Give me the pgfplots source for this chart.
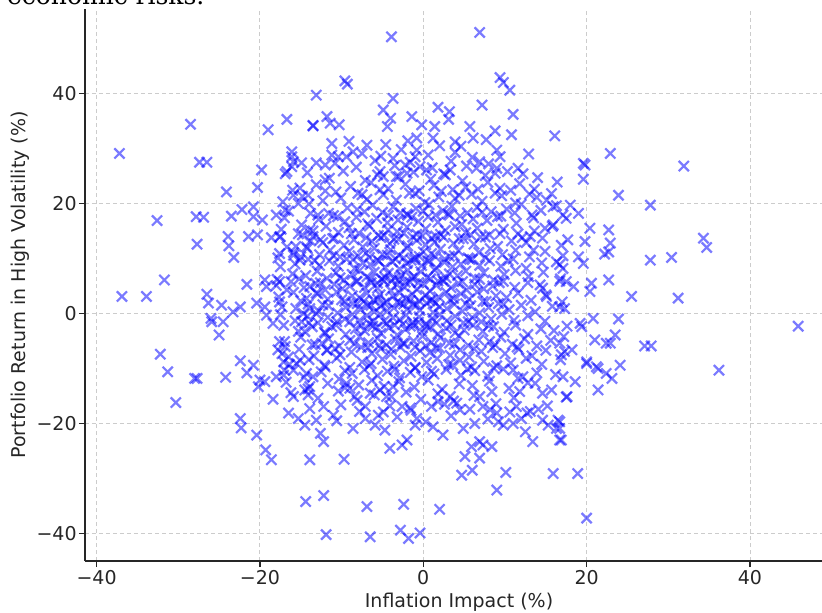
\documentclass[border=0pt]{standalone}
\usepackage{pgfplots}
\pgfplotsset{compat=1.18}
\usepackage{fontspec}
\setmainfont{DejaVu Sans}
\newfontfamily\serifttl{DejaVu Serif}
\begin{document}
\begin{tikzpicture}
\begin{axis}[
  at={(0pt,0pt)}, anchor=south west,
  scale only axis, width=368.5pt, height=276pt,
  xmin=-41.42, xmax=48.82, ymin=-45.0, ymax=55.36,
  axis x line*=bottom, axis y line*=left,
  axis line style={-, line width=0.9pt, black!85},
  tick align=outside, major tick length=3pt,
  tick style={line width=0.7pt, black!85},
  xtick={-40,-20,0,20,40}, xticklabels={−40,−20,0,20,40},
  ytick={-40,-20,0,20,40}, yticklabels={−40,−20,0,20,40},
  tick label style={font=\fontsize{9.5}{11}\selectfont, text=black!85},
  xticklabel style={inner sep=1.5pt},
  yticklabel style={inner sep=1pt},
  grid=major,
  grid style={dash pattern=on 2pt off 1.5pt, gray!40, line width=0.45pt},
  xlabel={Inflation Impact (\%)},
  ylabel={Portfolio Return in High Volatility (\%)},
  label style={font=\fontsize{9.5}{11}\selectfont, text=black!85},
  xlabel style={at={(axis description cs:0.5075,-0.0851)}, anchor=base},
  ylabel style={at={(axis description cs:-0.0882,0.5)}, anchor=center},
]
\addplot[only marks, mark=x, mark size=3.6pt, mark options={draw=blue, draw opacity=0.52, line width=1.1pt}] coordinates {
(-37.2,29.1)(-36.9,3.1)(-33.9,3.1)(-32.6,16.9)(-31.7,6.1)(-32.2,-7.4)(-31.3,-10.6)(-30.3,-16.2)
(-28.5,34.4)(-27.4,27.5)(-26.5,27.5)(-27.8,17.6)(-26.9,17.5)(-27.7,12.6)(-28.0,-11.8)(-27.7,-11.8)
(-26.5,3.5)(-26.3,1.9)(-24.7,1.5)(-26.0,-0.9)(-25.9,-1.5)(-24.5,-1.5)(-25.0,-3.9)(-24.1,22.1)
(-23.5,17.7)(-23.9,14.0)(-23.8,12.3)(-23.2,10.2)(-23.3,0.3)(-22.4,1.2)(-24.2,-11.6)(-22.4,-8.6)
(-20.8,-9.4)(-21.6,-10.8)(-20.0,-12.1)(-20.2,-13.3)(-19.4,-12.4)(-22.4,-19.1)(-22.3,-20.8)(-20.4,-22.1)
(-19.3,-24.8)(-18.6,-26.6)(-22.2,18.9)(-20.8,19.4)(-20.8,17.6)(-19.7,17.0)(-21.4,14.0)(-20.3,14.3)
(-18.6,13.8)(-17.5,14.0)(-18.0,17.9)(-16.9,18.8)(-20.3,22.9)(-19.8,26.1)(-19.0,33.4)(-16.7,35.3)
(-13.5,34.2)(-11.8,35.8)(-11.4,34.6)(-10.3,34.3)(-16.1,29.4)(-15.9,27.6)(-16.7,25.8)(-14.9,27.4)
(-13.1,27.4)(-12.0,27.0)(-12.0,24.3)(-15.1,22.8)(-15.9,21.5)(-14.1,21.5)(-15.3,20.0)(-12.9,17.9)
(-13.9,15.2)(-13.5,14.0)(-12.6,13.4)(-14.3,12.1)(-16.7,12.1)(-15.9,10.6)(-15.1,9.7)(-17.6,10.9)
(-21.6,5.3)(-19.4,6.1)(-19.2,4.9)(-17.6,5.8)(-16.7,4.3)(-13.9,4.9)(-13.1,3.7)(-20.4,1.9)
(-19.4,1.2)(-17.6,2.1)(-19.2,-0.3)(-18.4,-1.8)(-14.7,0.0)(-13.9,0.9)(-13.1,0.0)(-14.9,-1.5)
(-14.5,-3.3)(-12.4,-5.4)(-11.8,-6.6)(-12.0,-3.6)(-17.6,-5.1)(-17.8,-6.6)(-16.9,-6.0)(-16.5,-7.9)
(-15.5,-9.1)(-17.1,-8.8)(-15.9,-10.3)(-15.1,-8.5)(-18.0,-11.5)(-17.1,-11.2)(-14.3,-10.9)(-13.5,-11.5)
(-13.9,-13.3)(-14.5,-13.9)(-14.1,-14.8)(-18.4,-15.6)(-15.9,-15.1)(-16.5,-18.1)(-15.3,-19.1)(-14.5,-20.3)
(-13.1,-19.4)(-12.2,-16.9)(-12.6,-21.8)(-12.2,-23.3)(-13.9,-26.6)(-14.4,-34.2)(-12.2,-33.1)(-11.9,-40.2)
(-11.0,-18.5)(-9.7,-26.5)(-6.9,-35.1)(-6.5,-40.6)(-2.4,-34.7)(-2.8,-39.4)(-1.8,-40.9)(-0.4,-39.9)
(2.0,-35.6)(9.0,-32.1)(10.1,-28.9)(15.9,-29.1)(18.9,-29.1)(20.0,-37.2)(4.7,-29.4)(6.0,-28.5)
(5.1,-26.0)(6.9,-26.3)(5.9,-24.2)(6.9,-23.3)(7.3,-23.9)(8.4,-24.2)(1.2,-20.6)(2.4,-22.1)
(4.9,-20.9)(6.3,-20.0)(9.8,-20.3)(9.2,-19.7)(12.5,-21.5)(13.4,-23.3)(15.3,-20.3)(16.5,-19.4)
(16.7,-23.0)(16.3,-20.9)(13.1,-17.8)(14.1,-17.4)(12.0,-19.1)(17.6,-15.1)(17.1,-11.5)(18.6,-12.4)
(20.0,-9.1)(21.2,-9.7)(21.4,-13.9)(13.7,-12.7)(11.8,-14.2)(12.2,-11.5)(-8.6,-20.9)(-7.1,-19.1)
(-5.9,-20.3)(-4.7,-21.2)(-4.1,-24.5)(-2.6,-23.9)(-2.0,-23.0)(-2.6,-16.9)(-1.6,-17.2)(-4.9,-17.9)
(-5.5,-18.5)(-1.0,-20.3)(-0.8,-19.1)(-7.1,-16.9)(-9.0,-13.6)(-8.4,-15.1)(-9.4,-12.7)(-6.5,-14.5)
(-5.3,-13.9)(-4.5,-15.1)(-3.7,-13.3)(1.0,-16.9)(1.8,-16.0)(3.3,-15.1)(4.1,-16.3)(4.5,-17.5)
(6.9,-15.1)(7.3,-16.9)(8.2,-17.5)(9.0,-18.1)(11.4,-16.9)(12.7,-18.1)
(-3.9,50.3)(-9.6,42.3)(-9.3,41.7)(-13.1,39.7)(-3.7,39.1)(-4.9,37.0)(-4.0,35.5)(-4.4,34.0)
(-1.4,35.8)(-0.2,34.3)(-13.5,34.1)(-11.2,30.9)(-6.9,30.6)(-7.5,29.1)(-16.1,28.5)(-16.1,26.7)
(-16.9,25.4)(-11.2,28.8)(-10.4,28.5)(-9.4,28.5)(-3.7,28.2)(-2.2,27.0)(-0.8,29.7)(-0.8,31.9)
(-1.0,28.5)(-5.3,25.8)(-4.9,24.9)(-3.3,24.9)(-2.0,25.5)(6.9,51.1)(9.4,42.9)(9.8,42.0)
(10.6,40.6)(7.2,37.9)(11.0,36.2)(1.8,37.5)(3.2,36.7)(3.1,35.3)(1.4,34.0)(5.7,34.0)
(8.8,33.2)(10.8,32.5)(16.1,32.3)(1.2,31.9)(2.0,30.5)(3.9,31.2)(6.1,31.9)(9.0,29.7)
(9.4,28.5)(6.9,27.6)(6.5,26.4)(9.0,26.4)(8.8,25.5)(3.3,26.1)(2.7,25.2)(0.4,26.1)
(-0.4,26.7)(12.2,25.4)(19.6,27.3)(19.8,27.0)(19.6,24.4)(22.9,29.1)(31.9,26.8)(23.9,21.5)
(27.8,19.7)(18.0,19.7)(19.0,18.2)(17.1,17.9)(17.5,17.3)(20.4,15.5)(22.7,15.2)(17.7,13.4)
(19.8,13.1)(22.9,12.8)(22.7,11.2)(22.2,10.8)(19.0,10.3)(19.6,9.1)(34.3,13.7)(34.7,12.0)
(27.8,9.7)(30.4,10.2)(17.1,8.2)(18.4,4.9)(22.7,6.1)(20.6,5.5)(20.4,4.0)(25.5,3.1)
(31.2,2.8)(16.7,1.2)(17.3,0.9)(19.2,-1.8)(19.4,-2.4)(20.8,-0.9)(23.9,-1.0)(23.5,-3.9)
(22.9,-5.4)(22.4,-5.4)(21.0,-4.8)(27.1,-5.9)(27.9,-5.9)(45.9,-2.3)(36.2,-10.3)(16.7,-5.4)
(18.2,-6.6)(17.3,-6.9)(20.0,-8.8)(21.4,-10.0)(22.4,-10.9)(23.1,-11.8)(24.1,-9.4)(17.5,-15.2)
(16.7,-19.7)(16.7,-20.9)(16.9,-23.0)(15.1,20.6)(15.9,19.4)(13.1,14.0)(13.5,11.5)(14.9,15.5)
(16.3,9.4)(14.3,5.2)(15.1,3.1)(17.5,5.8)
(-14.2,25.6)(-11.5,24.6)(-9.8,25.9)(-7.1,24.2)(-5.6,25.2)(-3.0,24.9)(-1.2,25.7)(0.9,24.4)(2.5,25.4)(4.8,24.1)(7.6,25.1)(10.3,25.8)(14.0,24.7)
(-16.0,22.4)(-13.1,23.4)(-10.7,22.1)(-8.9,23.1)(-6.4,23.8)(-4.3,22.7)(-2.2,23.5)(-0.5,22.3)(1.3,23.3)(3.6,22.5)(5.2,23.0)(7.9,23.85)(9.4,22.75)(11.8,23.6)(13.6,22.6)(16.4,23.9)
(-17.2,20.3)(-14.8,21.3)(-12.3,20.5)(-10.1,21.0)(-8.0,21.85)(-6.9,20.75)(-4.9,21.6)(-3.3,20.6)(-1.7,21.9)(0.2,20.2)(1.9,21.2)(3.9,20.9)(5.9,21.7)(7.2,20.4)(9.6,21.4)(11.3,20.1)(13.9,21.1)(15.7,21.8)
(-16.5,18.6)(-14.0,19.9)(-11.6,18.2)(-9.3,19.2)(-8.1,18.9)(-6.2,19.7)(-5.0,18.4)(-3.7,19.4)(-2.0,18.1)(-0.9,19.1)(0.7,19.8)(2.4,18.7)(3.5,19.5)(5.4,18.3)(6.6,19.3)(8.3,18.5)(10.2,19.0)(12.0,19.85)(14.4,18.75)(16.3,19.6)
(-17.0,17.4)(-14.9,16.1)(-12.8,17.1)(-11.0,17.8)(-9.6,16.7)(-8.2,17.5)(-6.8,16.3)(-5.7,17.3)(-4.4,16.5)(-3.1,17.0)(-1.9,17.85)(-0.6,16.75)(0.6,17.6)(1.8,16.6)(3.2,17.9)(4.7,16.2)(6.1,17.2)(7.8,16.9)(9.5,17.7)(11.4,16.4)(13.5,17.4)(15.9,16.1)
(-17.4,15.3)(-15.3,14.5)(-13.5,15.0)(-11.9,15.85)(-10.4,14.75)(-9.1,15.6)(-7.9,14.6)(-6.6,15.9)(-5.5,14.2)(-4.3,15.2)(-3.2,14.9)(-2.0,15.7)(-0.8,14.4)(0.3,15.4)(1.5,14.1)(2.7,15.1)(3.9,15.8)(5.2,14.7)(6.6,15.5)(8.1,14.3)(9.8,15.3)(11.6,14.5)(13.6,15.0)(15.8,15.85)
(-17.6,13.9)(-15.6,12.2)(-13.8,13.2)(-12.3,12.9)(-10.9,13.7)(-9.7,12.4)(-8.5,13.4)(-7.4,12.1)(-6.3,13.1)(-5.2,13.8)(-4.1,12.7)(-3.0,13.5)(-1.9,12.3)(-0.8,13.3)(0.3,12.5)(1.4,13.0)(2.5,13.85)(3.7,12.75)(4.9,13.6)(6.2,12.6)(7.6,13.9)(9.1,12.2)(10.8,13.2)(12.6,12.9)(14.6,13.7)(16.9,12.4)
(-17.8,10.1)(-15.9,11.1)(-14.2,11.8)(-12.7,10.7)(-11.4,11.5)(-10.2,10.3)(-9.1,11.3)(-8.0,10.5)(-7.0,11.0)(-6.0,11.85)(-5.0,10.75)(-4.0,11.6)(-3.0,10.6)(-2.0,11.9)(-1.0,10.2)(0.0,11.2)(1.0,10.9)(2.1,11.7)(3.2,10.4)(4.3,11.4)(5.5,10.1)(6.8,11.1)(8.2,11.8)(9.7,10.7)(11.3,11.5)(13.0,10.3)(14.9,11.3)(17.1,10.5)
(-17.5,8.5)(-15.7,9.0)(-14.1,9.85)(-12.7,8.75)(-11.5,9.6)(-10.4,8.6)(-9.4,9.9)(-8.4,8.2)(-7.4,9.2)(-6.5,8.9)(-5.6,9.7)(-4.7,8.4)(-3.8,9.4)(-2.9,8.1)(-2.0,9.1)(-1.1,9.8)(-0.2,8.7)(0.7,9.5)(1.6,8.3)(2.6,9.3)(3.6,8.5)(4.6,9.0)(5.7,9.85)(6.9,8.75)(8.1,9.6)(9.5,8.6)(11.0,9.9)(12.6,8.2)(14.5,9.2)(16.7,8.9)
(-17.9,6.2)(-16.0,7.2)(-14.4,6.9)(-13.0,7.7)(-11.8,6.4)(-10.7,7.4)(-9.7,6.1)(-8.7,7.1)(-7.8,7.8)(-6.9,6.7)(-6.0,7.5)(-5.1,6.3)(-4.3,7.3)(-3.5,6.5)(-2.7,7.0)(-1.9,7.85)(-1.1,6.75)(-0.3,7.6)(0.5,6.6)(1.4,7.9)(2.3,6.2)(3.2,7.2)(4.2,6.9)(5.2,7.7)(6.3,6.4)(7.4,7.4)(8.6,6.1)(9.9,7.1)(11.3,7.8)(12.9,6.7)(14.7,7.5)(16.8,6.3)
(-18.0,5.1)(-16.2,5.8)(-14.6,4.7)(-13.2,5.5)(-12.0,4.3)(-10.9,5.3)(-9.9,4.5)(-9.0,5.0)(-8.1,5.85)(-7.2,4.75)(-6.4,5.6)(-5.6,4.6)(-4.8,5.9)(-4.0,4.2)(-3.2,5.2)(-2.4,4.9)(-1.6,5.7)(-0.8,4.4)(0.0,5.4)(0.8,4.1)(1.6,5.1)(2.5,5.8)(3.4,4.7)(4.3,5.5)(5.3,4.3)(6.3,5.3)(7.4,4.5)(8.5,5.0)(9.8,5.85)(11.2,4.75)(12.8,5.6)(14.6,4.6)(16.7,5.9)
(-17.7,3.0)(-15.9,3.85)(-14.3,2.75)(-12.9,3.6)(-11.7,2.6)(-10.6,3.9)(-9.6,2.2)(-8.7,3.2)(-7.8,2.9)(-6.9,3.7)(-6.1,2.4)(-5.3,3.4)(-4.5,2.1)(-3.7,3.1)(-2.9,3.8)(-2.1,2.7)(-1.3,3.5)(-0.5,2.3)(0.3,3.3)(1.1,2.5)(1.9,3.0)(2.8,3.85)(3.7,2.75)(4.6,3.6)(5.6,2.6)(6.6,3.9)(7.7,2.2)(8.9,3.2)(10.2,2.9)(11.6,3.7)(13.2,2.4)(15.0,3.4)(17.0,2.1)
(-17.3,1.2)(-15.6,0.9)(-14.1,1.7)(-12.8,0.4)(-11.6,1.4)(-10.5,0.1)(-9.5,1.1)(-8.6,1.8)(-7.7,0.7)(-6.8,1.5)(-6.0,0.3)(-5.2,1.3)(-4.4,0.5)(-3.6,1.0)(-2.8,1.85)(-2.0,0.75)(-1.2,1.6)(-0.4,0.6)(0.4,1.9)(1.2,0.2)(2.0,1.2)(2.9,0.9)(3.8,1.7)(4.8,0.4)(5.8,1.4)(6.9,0.1)(8.0,1.1)(9.2,1.8)(10.5,0.7)(12.0,1.5)(13.7,0.3)(15.8,1.3)
(-17.5,-0.2)(-15.7,-1.3)(-14.2,-0.5)(-12.9,-1.7)(-11.7,-0.7)(-10.6,-1.5)(-9.6,-1.0)(-8.7,-0.15)(-7.8,-1.25)(-6.9,-0.4)(-6.1,-1.4)(-5.3,-0.1)(-4.5,-1.8)(-3.7,-0.8)(-2.9,-1.1)(-2.1,-0.3)(-1.3,-1.6)(-0.5,-0.6)(0.3,-1.9)(1.1,-0.9)(2.0,-0.2)(2.9,-1.3)(3.9,-0.5)(4.9,-1.7)(6.0,-0.7)(7.1,-1.5)(8.3,-1.0)(9.6,-0.15)(11.1,-1.25)(12.8,-0.4)(14.9,-1.4)
(-17.1,-2.15)(-15.3,-3.25)(-13.6,-2.4)(-12.1,-3.4)(-10.7,-2.1)(-9.5,-3.8)(-8.3,-2.8)(-7.2,-3.1)(-6.2,-2.3)(-5.2,-3.6)(-4.2,-2.6)(-3.2,-3.9)(-2.2,-2.9)(-1.2,-2.2)(-0.2,-3.3)(0.8,-2.5)(1.8,-3.7)(2.8,-2.7)(3.9,-3.5)(5.0,-3.0)(6.1,-2.15)(7.3,-3.25)(8.6,-2.4)(9.9,-3.4)(11.3,-2.1)(12.8,-3.8)(14.4,-2.8)(16.0,-3.1)(17.6,-2.3)
(-17.0,-5.1)(-15.0,-4.3)(-13.2,-5.6)(-11.6,-4.6)(-10.3,-5.9)(-9.0,-4.9)(-7.8,-4.2)(-6.7,-5.3)(-5.6,-4.5)(-4.5,-5.7)(-3.4,-4.7)(-2.3,-5.5)(-1.2,-5.0)(-0.1,-4.15)(1.0,-5.25)(2.1,-4.4)(3.2,-5.4)(4.4,-4.1)(5.5,-5.8)(6.8,-4.8)(8.1,-5.1)(9.5,-4.3)(10.9,-5.6)(12.4,-4.6)(13.9,-5.9)(15.6,-4.9)(17.2,-4.2)
(-17.3,-7.3)(-15.2,-6.5)(-13.4,-7.7)(-11.8,-6.7)(-10.2,-7.5)(-8.8,-7.0)(-7.6,-6.15)(-6.3,-7.25)(-5.2,-6.4)(-4.0,-7.4)(-2.8,-6.1)(-1.5,-7.8)(-0.4,-6.8)(0.8,-7.1)(2.0,-6.3)(3.3,-7.6)(4.5,-6.6)(5.6,-7.9)(7.1,-6.9)(8.5,-6.2)(10.0,-7.3)(11.7,-6.5)(13.3,-7.7)(15.0,-6.7)(16.9,-7.5)
(-16.4,-9.25)(-14.0,-8.4)(-12.1,-9.4)(-10.6,-8.1)(-9.0,-9.8)(-7.5,-8.8)(-6.4,-9.1)(-5.0,-8.3)(-3.6,-9.6)(-2.4,-8.6)(-1.0,-9.9)(0.4,-8.9)(1.7,-8.2)(3.1,-9.3)(4.5,-8.5)(5.9,-9.7)(7.4,-8.7)(9.0,-9.5)(10.7,-9.0)(12.6,-8.15)(14.5,-9.25)(16.8,-8.4)
(-17.0,-10.3)(-14.6,-11.6)(-12.5,-10.6)(-10.3,-11.9)(-8.7,-10.9)(-7.2,-10.2)(-5.6,-11.3)(-4.4,-10.5)(-2.9,-11.7)(-1.6,-10.7)(-0.2,-11.5)(1.3,-11.0)(2.8,-10.15)(4.6,-11.25)(6.3,-10.4)(7.9,-11.4)(9.8,-10.1)(11.6,-11.8)(13.9,-10.8)(16.2,-11.1)
(-16.8,-12.5)(-14.1,-13.7)(-11.7,-12.7)(-9.6,-13.5)(-7.9,-13.0)(-6.3,-12.15)(-4.8,-13.25)(-3.0,-12.4)(-1.1,-13.4)(0.6,-12.1)(2.3,-13.8)(4.4,-12.8)(6.0,-13.1)(8.1,-12.3)(10.5,-13.6)(12.8,-12.6)(15.7,-13.9)
(-16.2,-14.4)(-12.9,-15.4)(-10.4,-14.1)(-8.1,-15.8)(-6.0,-14.8)(-3.9,-15.1)(-2.1,-14.3)(-0.3,-15.6)(1.8,-14.6)(3.7,-15.9)(6.2,-14.9)(8.4,-14.2)(11.1,-15.3)(14.6,-14.5)
(-10.8,27.3)(-8.2,26.6)(-5.9,27.8)(-3.5,26.9)(-1.6,27.5)(1.1,26.5)(3.4,27.7)(5.3,26.8)(8.0,27.2)(11.6,26.4)
(-8.6,29.4)(-5.2,28.6)(-2.7,29.8)(0.6,28.8)(3.9,29.3)(6.0,28.4)(12.9,29.0)
(-9.1,31.3)(-4.6,30.7)(-1.9,31.4)(4.6,30.4)(7.7,31.6)
(-13.9,-17.3)(-10.1,-16.6)(-7.8,-17.8)(-4.1,-16.8)(-1.5,-17.6)(2.6,-16.5)(5.7,-17.4)(8.9,-16.4)(10.6,-17.9)(15.2,-16.8)
(-10.6,-19.5)(-3.2,-18.8)(0.3,-19.7)(3.4,-18.6)(7.9,-19.2)(11.0,-20.0)(14.6,-19.4)
(-12.0,22.3)(-7.5,21.6)(-5.3,22.5)(-1.0,21.8)(2.2,22.2)(4.4,21.5)(6.7,22.6)(8.8,21.9)(10.7,22.4)(13.0,21.7)
(-13.8,18.2)(-10.5,17.6)(-7.2,18.5)(-4.3,17.8)(-2.8,18.3)(-1.4,17.5)(0.0,18.6)(1.5,17.9)(3.0,18.1)(4.5,17.7)(7.2,18.4)(9.1,17.6)(11.2,18.3)(13.3,17.9)
(-14.8,14.3)(-11.1,13.6)(-8.8,14.5)(-7.0,13.8)(-4.8,14.2)(-3.6,13.5)(-2.4,14.6)(-1.3,13.9)(-0.1,14.1)(1.0,13.7)(2.1,14.4)(4.4,13.6)(5.8,14.3)(7.0,13.9)(9.4,14.5)(12.1,13.8)
(-15.0,10.3)(-13.3,9.6)(-11.0,10.5)(-8.6,9.8)(-6.6,10.2)(-5.4,9.5)(-4.4,10.6)(-3.4,9.9)(-2.4,10.1)(-1.5,9.7)(-0.5,10.4)(0.5,9.6)(1.5,10.3)(2.6,9.9)(3.8,10.5)(6.0,9.8)(7.6,10.2)(10.4,9.6)
(-15.2,6.3)(-12.6,5.6)(-10.2,6.5)(-8.2,5.8)(-6.5,6.2)(-5.6,5.5)(-4.7,6.6)(-3.9,5.9)(-3.0,6.1)(-2.2,5.7)(-1.4,6.4)(-0.6,5.6)(0.9,6.3)(1.8,5.9)(2.8,6.5)(4.8,5.8)(6.9,6.2)(9.3,5.6)
(-15.0,2.3)(-12.3,1.6)(-10.0,2.5)(-8.1,1.8)(-7.3,2.2)(-6.4,1.5)(-5.6,2.6)(-4.8,1.9)(-3.2,2.1)(-2.4,1.7)(-1.6,2.4)(-0.8,1.6)(0.8,2.3)(1.5,1.9)(3.3,2.5)(5.2,1.8)(7.3,2.2)(9.8,1.6)
(-14.0,-1.7)(-11.2,-2.4)(-9.0,-1.5)(-7.6,-2.2)(-6.6,-1.8)(-5.7,-2.5)(-4.8,-1.4)(-3.5,-2.1)(-2.5,-1.9)(-1.6,-2.3)(-0.6,-1.6)(0.4,-2.4)(1.6,-1.7)(3.4,-2.1)(5.5,-1.5)(8.0,-2.2)
(-13.6,-5.7)(-10.8,-6.4)(-8.4,-5.5)(-6.8,-6.2)(-5.4,-5.8)(-3.9,-6.5)(-2.5,-5.4)(-1.0,-6.1)(0.3,-5.9)(1.6,-6.3)(3.8,-5.6)(6.2,-6.4)(8.8,-5.7)(11.5,-6.1)
(-12.0,-9.7)(-9.6,-10.4)(-6.6,-9.5)(-3.5,-10.2)(-1.0,-9.8)(1.0,-10.5)(3.6,-9.4)(5.4,-10.1)(8.6,-9.9)(11.0,-10.3)
};
\end{axis}
\node[anchor=base west, font=\serifttl\fontsize{12.5}{14}\selectfont, text=black] at (-42.5pt,278pt) {economic risks.};
\pgfresetboundingbox
\path[use as bounding box] (-42.5pt,-25.5pt) rectangle (368.5pt,280.5pt);
\end{tikzpicture}
\end{document}
